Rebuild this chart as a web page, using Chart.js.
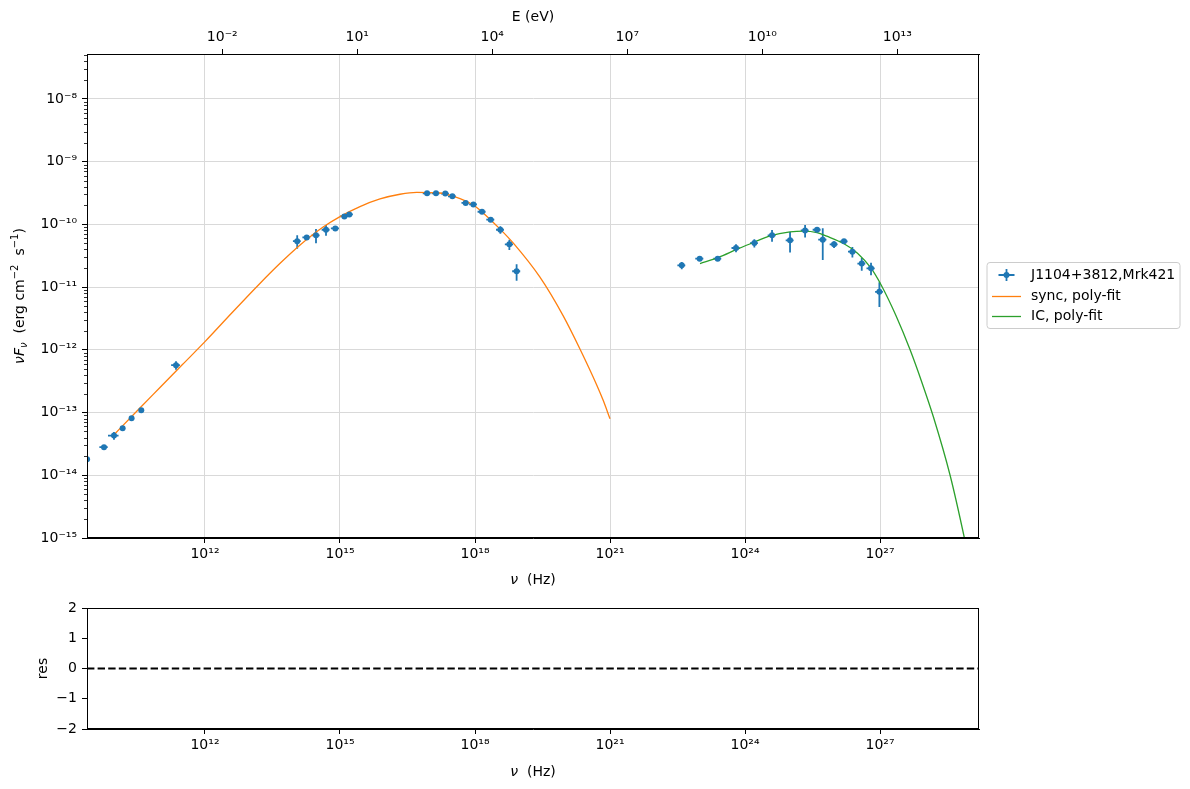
<!DOCTYPE html>
<html>
<head>
<meta charset="utf-8">
<title>SED Mrk421</title>
<script src="https://cdn.jsdelivr.net/npm/chart.js@4.4.1/dist/chart.umd.min.js"></script>
<style>
  body { margin: 0; background: #fff; }
  #wrap { position: relative; width: 1190px; height: 789px; }
  #sedChart { position: absolute; left: 0; top: 0; }
  #resChart { position: absolute; left: 0; top: 599px; }
</style>
</head>
<body>
<div id="wrap">
  <canvas id="sedChart" width="1190" height="600"></canvas>
  <canvas id="resChart" width="1190" height="190"></canvas>
</div>
<script>
// observed SED points (Hz, erg cm-2 s-1)
const nu = [2.4e9, 5.7e9, 9.5e9, 1.48e10, 2.34e10, 3.84e10, 2.27e11,
    1.12e14, 1.82e14, 2.93e14, 4.89e14, 7.87e14, 1.25e15, 1.61e15,
    8.6e16, 1.36e17, 2.19e17, 3.14e17, 6.2e17, 9.2e17, 1.43e18, 2.23e18, 3.66e18, 5.8e18, 8.4e18,
    3.92e22, 9.84e22, 2.47e23, 6.3e23, 1.61e24, 3.98e24, 1.0e25, 2.16e25, 3.98e25, 5.33e25,
    9.5e25, 1.58e26, 2.43e26, 3.92e26, 6.3e26, 9.66e26];
const nuFnu = [1.8e-14, 2.8e-14, 4.3e-14, 5.6e-14, 8.1e-14, 1.09e-13, 5.7e-13,
    5.4e-11, 6.2e-11, 6.7e-11, 8.2e-11, 8.6e-11, 1.34e-10, 1.44e-10,
    3.12e-10, 3.12e-10, 3.1e-10, 2.8e-10, 2.2e-10, 2.08e-10, 1.59e-10, 1.19e-10, 8.2e-11, 4.8e-11, 1.79e-11,
    2.22e-11, 2.84e-11, 2.84e-11, 4.2e-11, 5.04e-11, 6.7e-11, 5.56e-11, 8.0e-11, 8.2e-11, 5.7e-11,
    4.8e-11, 5.36e-11, 3.67e-11, 2.37e-11, 1.99e-11, 8.4e-12];
const nuErr = [0.3e9, 1.2e9, 2.5e9, 1.5e9, 2.3e9, 3.8e9, 0.5e11,
    2.2e13, 3.6e13, 5.9e13, 9.8e13, 1.6e14, 2.5e14, 3.2e14,
    1.7e16, 2.7e16, 4.4e16, 6.3e16, 1.2e17, 1.8e17, 2.9e17, 4.5e17, 7.3e17, 1.2e18, 1.7e18,
    7.8e21, 2.0e22, 4.9e22, 1.3e23, 3.2e23, 8.0e23, 2.0e24, 4.3e24, 8.0e24, 1.1e25,
    1.9e25, 3.2e25, 4.9e25, 7.8e25, 1.3e26, 1.9e26];
const nuFnuErr = [1.0e-15, 1.5e-15, 6e-15, 3e-15, 4e-15, 5e-15, 9e-14,
    1.3e-11, 3e-12, 1.7e-11, 1.6e-11, 4e-12, 6e-12, 6e-12,
    1e-11, 1e-11, 1e-11, 8e-12, 7e-12, 7e-12, 6e-12, 6e-12, 1.1e-11, 9e-12, 5.3e-12,
    3e-12, 2e-12, 2e-12, 6e-12, 7.5e-12, 1.4e-11, 2e-11, 1.8e-11, 5e-12, 3e-11,
    6e-12, 5e-12, 7e-12, 5.4e-12, 4.5e-12, 3.6e-12];

// synchrotron poly-fit curve
const syncNu = [8.51e9, 3.16e10, 1.0e11, 3.16e11, 1.0e12, 3.98e12, 1.66e13, 4.6e13, 1.28e14,
    4.22e14, 1.0e15, 2.78e15, 7.74e15, 2.15e16, 5.06e16, 1.66e17, 4.65e17, 9.18e17, 1.43e18,
    3.66e18, 7.11e18, 2.75e19, 9.12e19, 2.16e20, 5.06e20, 7.08e20, 1.0e21];
const syncFlux = [4.07e-14, 1.08e-13, 2.51e-13, 5.82e-13, 1.35e-12, 3.89e-12, 1.14e-11, 2.37e-11, 4.65e-11,
    9.06e-11, 1.33e-10, 1.92e-10, 2.54e-10, 3.02e-10, 3.24e-10, 3.16e-10, 2.57e-10, 2.04e-10, 1.58e-10,
    8.32e-11, 5.01e-11, 1.45e-11, 3.47e-12, 1.02e-12, 2.75e-13, 1.55e-13, 7.94e-14];

// inverse Compton poly-fit curve
const icNu = [1.0e23, 2.51e23, 6.53e23, 1.58e24, 3.6e24, 1.0e25, 1.98e25, 3.98e25, 6.53e25,
    1.58e26, 3.16e26, 6.31e26, 1.08e27, 2.24e27, 4.65e27, 8.51e27, 1.53e28, 3.6e28, 7.48e28, 1.26e29];
const icFlux = [2.37e-11, 2.95e-11, 3.98e-11, 5.19e-11, 6.53e-11, 7.59e-11, 7.83e-11, 7.41e-11, 6.49e-11,
    4.9e-11, 3.47e-11, 2.0e-11, 1.05e-11, 3.55e-12, 1.0e-12, 3.02e-13, 8.55e-14, 1.0e-14, 1.0e-15, 1.58e-16];

// axes
const nuMin = 2.39e9, nuMax = 1.58e29;
const fluxMin = 1e-15, fluxMax = 5.2e-8;
const nuTicks = [1e12, 1e15, 1e18, 1e21, 1e24, 1e27];
const eTicks = [1e-2, 1e1, 1e4, 1e7, 1e10, 1e13];
const fluxTicks = [1e-15, 1e-14, 1e-13, 1e-12, 1e-11, 1e-10, 1e-9, 1e-8];
const resTicks = [-2, -1, 0, 1, 2];
const H_EV = 4.135667e-15; // eV s

const BLUE = '#1f77b4', ORANGE = '#ff7f0e', GREEN = '#2ca02c';
const GRID = '#d9d9d9';
const FAMILY = "'DejaVu Sans', sans-serif";

Chart.defaults.font.family = FAMILY;
Chart.defaults.font.size = 14;
Chart.defaults.color = '#000';
Chart.defaults.animation = false;

const SUP = {'-': '⁻', '0': '⁰', '1': '¹', '2': '²', '3': '³', '4': '⁴',
    '5': '⁵', '6': '⁶', '7': '⁷', '8': '⁸', '9': '⁹'};
function pow10(v) {
    const e = Math.round(Math.log10(v));
    return '10' + String(e).split('').map(c => SUP[c]).join('');
}

function drawRich(ctx, parts, cx, cy, angle) {
    ctx.save();
    ctx.translate(cx, cy);
    ctx.rotate(angle);
    ctx.textBaseline = 'middle';
    ctx.textAlign = 'left';
    ctx.fillStyle = '#000';
    let total = 0;
    parts.forEach(p => {
        ctx.font = (p.it ? 'italic ' : '') + (p.s || 14) + 'px ' + FAMILY;
        p.w = ctx.measureText(p.t).width;
        total += p.w;
    });
    let x = -total / 2;
    parts.forEach(p => {
        ctx.font = (p.it ? 'italic ' : '') + (p.s || 14) + 'px ' + FAMILY;
        ctx.fillText(p.t, x, p.dy || 0);
        x += p.w;
    });
    ctx.restore();
}

function frame(chart) {
    const a = chart.chartArea, ctx = chart.ctx;
    ctx.save();
    ctx.strokeStyle = '#000';
    ctx.lineWidth = 1;
    ctx.strokeRect(Math.round(a.left) + 0.5, Math.round(a.top) + 0.5,
        Math.round(a.right - a.left) - 1, Math.round(a.bottom - a.top) - 1);
    ctx.restore();
}

// x title "ν  (Hz)" with italic nu, drawn under a chart
function nuTitle(chart, cy) {
    const a = chart.chartArea;
    drawRich(chart.ctx, [{t: 'ν', it: true}, {t: '  (Hz)'}], (a.left + a.right) / 2, cy, 0);
}

const sedExtras = {
    id: 'sedExtras',
    beforeDatasetsDraw(chart) {
        // error bars of the data points
        const {ctx, chartArea: a, scales: {x, y}} = chart;
        ctx.save();
        ctx.beginPath();
        ctx.rect(a.left, a.top, a.right - a.left, a.bottom - a.top);
        ctx.clip();
        ctx.strokeStyle = BLUE;
        ctx.lineWidth = 1.8;
        nu.forEach((v, i) => {
            const px = x.getPixelForValue(v);
            const py = y.getPixelForValue(nuFnu[i]);
            const lo = nuFnu[i] - nuFnuErr[i];
            const y0 = y.getPixelForValue(lo > 0 ? lo : fluxMin / 10);
            const y1 = y.getPixelForValue(nuFnu[i] + nuFnuErr[i]);
            const x0 = x.getPixelForValue(v - nuErr[i]);
            const x1 = x.getPixelForValue(v + nuErr[i]);
            ctx.beginPath();
            ctx.moveTo(px, y0); ctx.lineTo(px, y1);
            ctx.moveTo(x0, py); ctx.lineTo(x1, py);
            ctx.stroke();
        });
        ctx.restore();
    },
    afterDraw(chart) {
        const {ctx, chartArea: a, scales: {y}} = chart;
        frame(chart);
        nuTitle(chart, 580);

        // minor ticks on the log y axis
        ctx.save();
        ctx.strokeStyle = '#000';
        ctx.lineWidth = 0.8;
        for (let d = -16; d <= -8; d++) {
            for (let k = 2; k <= 9; k++) {
                const v = k * Math.pow(10, d);
                if (v < fluxMin || v > fluxMax) continue;
                const py = Math.round(y.getPixelForValue(v)) + 0.5;
                ctx.beginPath();
                ctx.moveTo(a.left - 3, py); ctx.lineTo(a.left, py);
                ctx.stroke();
            }
        }
        ctx.restore();

        // y axis title
        drawRich(ctx, [
            {t: 'νF', it: true},
            {t: 'ν', it: true, s: 10, dy: 4},
            {t: '  (erg cm'},
            {t: '−2', s: 10, dy: -5},
            {t: '  s'},
            {t: '−1', s: 10, dy: -5},
            {t: ')'}
        ], 20, (a.top + a.bottom) / 2, -Math.PI / 2);

        // legend
        const lx = 987, ly = 262.5, lw = 193, lh = 66;
        ctx.save();
        ctx.beginPath();
        ctx.roundRect(lx, ly, lw, lh, 3);
        ctx.fillStyle = 'rgba(255,255,255,0.8)';
        ctx.fill();
        ctx.strokeStyle = '#cccccc';
        ctx.lineWidth = 1;
        ctx.stroke();

        const mx = 1006.5, my = 275;
        ctx.strokeStyle = BLUE;
        ctx.lineWidth = 1.8;
        ctx.beginPath();
        ctx.moveTo(mx - 8, my); ctx.lineTo(mx + 8, my);
        ctx.moveTo(mx, my - 6); ctx.lineTo(mx, my + 6);
        ctx.stroke();
        ctx.fillStyle = BLUE;
        ctx.beginPath();
        ctx.arc(mx, my, 3, 0, Math.PI * 2);
        ctx.fill();

        ctx.lineWidth = 1.3;
        ctx.strokeStyle = ORANGE;
        ctx.beginPath(); ctx.moveTo(992, 296.5); ctx.lineTo(1021, 296.5); ctx.stroke();
        ctx.strokeStyle = GREEN;
        ctx.beginPath(); ctx.moveTo(992, 316.5); ctx.lineTo(1021, 316.5); ctx.stroke();

        ctx.fillStyle = '#000';
        ctx.font = '14px ' + FAMILY;
        ctx.textBaseline = 'middle';
        ctx.textAlign = 'left';
        ctx.fillText('J1104+3812,Mrk421', 1031, 275);
        ctx.fillText('sync, poly-fit', 1031, 296);
        ctx.fillText('IC, poly-fit', 1031, 316);
        ctx.restore();
    }
};

new Chart(document.getElementById('sedChart'), {
    type: 'scatter',
    data: {
        datasets: [
            {
                label: 'J1104+3812,Mrk421',
                data: nu.map((v, i) => ({x: v, y: nuFnu[i]})),
                backgroundColor: BLUE,
                borderWidth: 0,
                pointRadius: 3,
                pointHoverRadius: 3
            },
            {
                label: 'sync, poly-fit',
                data: syncNu.map((v, i) => ({x: v, y: syncFlux[i]})),
                showLine: true,
                borderColor: ORANGE,
                borderWidth: 1.3,
                pointRadius: 0,
                cubicInterpolationMode: 'monotone'
            },
            {
                label: 'IC, poly-fit',
                data: icNu.map((v, i) => ({x: v, y: icFlux[i]})),
                showLine: true,
                borderColor: GREEN,
                borderWidth: 1.3,
                pointRadius: 0,
                cubicInterpolationMode: 'monotone'
            }
        ]
    },
    options: {
        responsive: false,
        layout: { padding: { left: 0, right: 211, top: 0, bottom: 0 } },
        plugins: { legend: { display: false }, tooltip: { enabled: false } },
        scales: {
            x: {
                type: 'logarithmic',
                position: 'bottom',
                min: nuMin,
                max: nuMax,
                afterBuildTicks: s => { s.ticks = nuTicks.map(v => ({value: v})); },
                afterFit: s => { s.height = 62; },
                ticks: { callback: v => pow10(v), autoSkip: false, maxRotation: 0, padding: 3 },
                grid: { color: GRID, tickColor: '#000', tickLength: 5 },
                border: { color: '#000', width: 1 }
            },
            x2: {
                type: 'logarithmic',
                position: 'top',
                min: nuMin * H_EV,
                max: nuMax * H_EV,
                afterBuildTicks: s => { s.ticks = eTicks.map(v => ({value: v})); },
                afterFit: s => { s.height = 54; },
                ticks: { callback: v => pow10(v), autoSkip: false, maxRotation: 0, padding: 3 },
                grid: { drawOnChartArea: false, tickColor: '#000', tickLength: 5 },
                border: { color: '#000', width: 1 },
                title: { display: true, text: 'E (eV)', padding: { top: 9, bottom: 0 } }
            },
            y: {
                type: 'logarithmic',
                min: fluxMin,
                max: fluxMax,
                afterBuildTicks: s => { s.ticks = fluxTicks.map(v => ({value: v})); },
                afterFit: s => { s.width = 87; },
                ticks: { callback: v => pow10(v), autoSkip: false, padding: 5 },
                grid: { color: GRID, tickColor: '#000', tickLength: 5 },
                border: { color: '#000', width: 1 }
            }
        }
    },
    plugins: [sedExtras]
});

// residuals panel
new Chart(document.getElementById('resChart'), {
    type: 'scatter',
    data: {
        datasets: [{
            label: 'zero',
            data: [{x: nuMin, y: 0}, {x: nuMax, y: 0}],
            showLine: true,
            borderColor: '#000',
            borderWidth: 2,
            borderDash: [7.4, 3.2],
            pointRadius: 0
        }]
    },
    options: {
        responsive: false,
        layout: { padding: { left: 0, right: 211, top: 9, bottom: 0 } },
        plugins: { legend: { display: false }, tooltip: { enabled: false } },
        scales: {
            x: {
                type: 'logarithmic',
                min: nuMin,
                max: nuMax,
                afterBuildTicks: s => { s.ticks = nuTicks.map(v => ({value: v})); },
                afterFit: s => { s.height = 60; },
                ticks: { callback: v => pow10(v), autoSkip: false, maxRotation: 0, padding: 3 },
                grid: { drawOnChartArea: false, tickColor: '#000', tickLength: 5 },
                border: { color: '#000', width: 1 }
            },
            y: {
                type: 'linear',
                min: -2,
                max: 2,
                afterBuildTicks: s => { s.ticks = resTicks.map(v => ({value: v})); },
                afterFit: s => { s.width = 87; s.paddingTop = 0; s.paddingBottom = 0; },
                ticks: { callback: v => v < 0 ? '−' + Math.abs(v) : String(v), padding: 5 },
                grid: { drawOnChartArea: false, tickColor: '#000', tickLength: 5 },
                border: { color: '#000', width: 1 },
                title: { display: true, text: 'res', padding: { top: 35, bottom: 0 } }
            }
        }
    },
    plugins: [{ id: 'resFrame', afterDraw: c => { frame(c); nuTitle(c, 173); } }]
});
</script>
</body>
</html>
